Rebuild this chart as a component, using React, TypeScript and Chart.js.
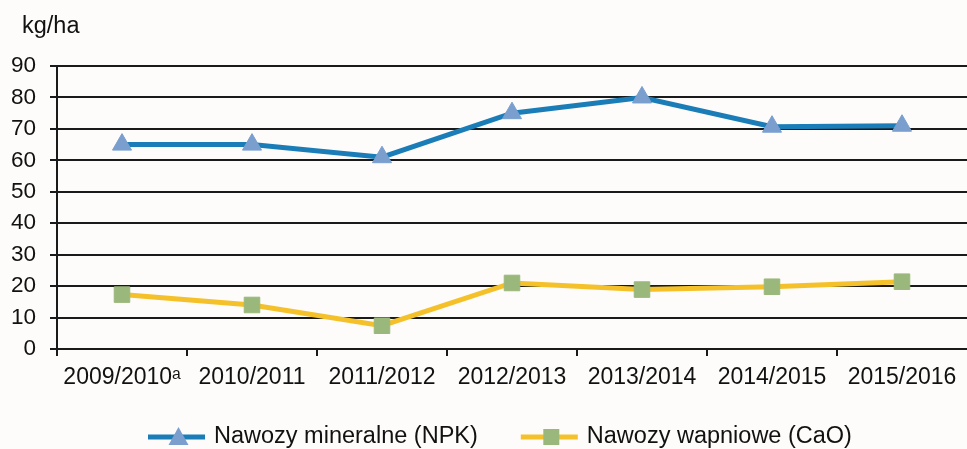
import React, { useEffect, useRef } from "react";
import { Chart, registerables } from "chart.js";

Chart.register(...registerables);

const categories = [
  "2009/2010\u1D43",
  "2010/2011",
  "2011/2012",
  "2012/2013",
  "2013/2014",
  "2014/2015",
  "2015/2016",
];
const npkValues = [65, 65, 61, 75, 80, 70.7, 71];
const caoValues = [17.3, 14, 7.4, 21, 18.9, 19.8, 21.4];
const seriesNames = ["Nawozy mineralne (NPK)", "Nawozy wapniowe (CaO)"];
const yTicks = [0, 10, 20, 30, 40, 50, 60, 70, 80, 90];
const unitLabel = "kg/ha";

const FONT = "'Liberation Sans', Arial, sans-serif";
const NPK_LINE = "#1a7db8";
const NPK_MARK = "#7a9fcf";
const CAO_LINE = "#f5c12a";
const CAO_MARK = "#9bb87c";
const AXIS = "#1a1a1a";
const TEXT = "#111111";
const BG = "#fdfcfa";

const decorPlugin = {
  id: "decor",
  beforeDraw(chart: any) {
    const { ctx, width, height } = chart;
    ctx.save();
    ctx.fillStyle = BG;
    ctx.fillRect(0, 0, width, height);
    ctx.restore();
  },
  afterDraw(chart: any) {
    const { ctx, chartArea } = chart;
    ctx.save();
    // unit label
    ctx.fillStyle = TEXT;
    ctx.font = `23.5px ${FONT}`;
    ctx.textAlign = "left";
    ctx.textBaseline = "alphabetic";
    ctx.fillText(unitLabel, chartArea.left - 35, 33);

    // legend
    const y = 437;
    const lineLen = 57;
    const gapText = 9;
    const gapItems = 43;
    ctx.font = `23.5px ${FONT}`;
    let x = chartArea.left + 91;
    const items = [
      { name: seriesNames[0], line: NPK_LINE, mark: NPK_MARK, style: "triangle" },
      { name: seriesNames[1], line: CAO_LINE, mark: CAO_MARK, style: "rect" },
    ];
    for (const it of items) {
      const w = ctx.measureText(it.name).width;
      ctx.strokeStyle = it.line;
      ctx.lineWidth = 5;
      ctx.beginPath();
      ctx.moveTo(x, y);
      ctx.lineTo(x + lineLen, y);
      ctx.stroke();
      ctx.fillStyle = it.mark;
      const cx = x + lineLen / 2 + 2;
      if (it.style === "triangle") {
        ctx.beginPath();
        ctx.moveTo(cx, y - 10);
        ctx.lineTo(cx + 10, y + 8);
        ctx.lineTo(cx - 10, y + 8);
        ctx.closePath();
        ctx.fill();
      } else {
        ctx.fillRect(cx - 8, y - 8, 16, 16);
      }
      ctx.fillStyle = TEXT;
      ctx.textAlign = "left";
      ctx.textBaseline = "middle";
      ctx.fillText(it.name, x + lineLen + gapText, y);
      x += lineLen + gapText + w + gapItems;
    }
    ctx.restore();
  },
};

export default function App() {
  const ref = useRef<HTMLCanvasElement | null>(null);
  useEffect(() => {
    if (!ref.current) return;
    const chart = new Chart(ref.current, {
      type: "line",
      data: {
        labels: categories,
        datasets: [
          {
            label: seriesNames[0],
            data: npkValues,
            borderColor: NPK_LINE,
            borderWidth: 5,
            pointStyle: "triangle",
            pointRadius: 11,
            pointBackgroundColor: NPK_MARK,
            pointBorderColor: NPK_MARK,
            pointBorderWidth: 1,
            tension: 0,
            fill: false,
          },
          {
            label: seriesNames[1],
            data: caoValues,
            borderColor: CAO_LINE,
            borderWidth: 5,
            pointStyle: "rect",
            pointRadius: 11,
            pointBackgroundColor: CAO_MARK,
            pointBorderColor: CAO_MARK,
            pointBorderWidth: 1,
            tension: 0,
            fill: false,
          },
        ],
      },
      options: {
        animation: false,
        responsive: false,
        maintainAspectRatio: false,
        events: [],
        layout: { autoPadding: false, padding: { top: 66, left: 0, right: 0, bottom: 0 } },
        plugins: {
          legend: { display: false },
          tooltip: { enabled: false },
          title: { display: false },
        },
        scales: {
          x: {
            type: "category",
            offset: true,
            afterFit: (s: any) => {
              s.height = 100;
              s.paddingLeft = 0;
              s.paddingRight = 0;
            },
            grid: {
              display: true,
              drawOnChartArea: false,
              drawTicks: true,
              tickLength: 7,
              offset: true,
              color: (c: any) => (c.type === "tick" ? AXIS : "rgba(0,0,0,0)"),
              lineWidth: 2,
            },
            border: { display: true, color: AXIS, width: 2 },
            ticks: {
              color: TEXT,
              font: { family: FONT, size: 23 },
              padding: 8,
              maxRotation: 0,
              autoSkip: false,
            },
          },
          y: {
            min: 0,
            max: 90,
            afterFit: (s: any) => {
              s.width = 57;
              s.paddingTop = 0;
              s.paddingBottom = 0;
            },
            afterBuildTicks: (s: any) => {
              s.ticks = yTicks.map((v) => ({ value: v }));
            },
            grid: {
              color: AXIS,
              lineWidth: 2,
              drawTicks: true,
              tickLength: 7,
            },
            border: { display: true, color: AXIS, width: 2 },
            ticks: {
              color: TEXT,
              font: { family: FONT, size: 22.5 },
              padding: 14,
            },
          },
        },
      },
      plugins: [decorPlugin],
    } as any);
    return () => chart.destroy();
  }, []);
  return (
    <div style={{ position: "absolute", left: 0, top: 0, width: 967, height: 449 }}>
      <canvas ref={ref} width={967} height={449} style={{ display: "block", width: 967, height: 449 }} />
    </div>
  );
}
